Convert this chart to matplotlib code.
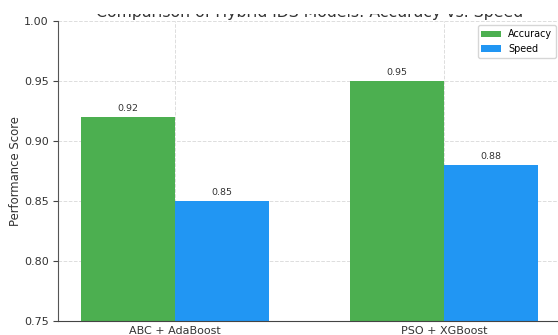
import matplotlib
matplotlib.use("Agg")
import matplotlib.pyplot as plt
from matplotlib.patches import Rectangle
import numpy as np

# Chart data
models = ["ABC + AdaBoost", "PSO + XGBoost"]
accuracy = [0.92, 0.95]
speed = [0.85, 0.88]

bar_width = 0.35
x = np.arange(len(models))

fig = plt.figure(figsize=(5.58, 3.35), dpi=100)
# axes placed so the picture is cropped like the reference (title and right edge cut)
ax = fig.add_axes([58.3 / 558, (335 - 320.7) / 335, 502.7 / 558, 300 / 335])

bars_acc = ax.bar(x - bar_width / 2, accuracy, bar_width, label="Accuracy", color="#4CAF50")
bars_spd = ax.bar(x + bar_width / 2, speed, bar_width, label="Speed", color="#2196F3")

# Value labels above each bar
for bars in (bars_acc, bars_spd):
    for b in bars:
        ax.annotate(f"{b.get_height():.2f}",
                    xy=(b.get_x() + b.get_width() / 2, b.get_height()),
                    xytext=(0, 3), textcoords="offset points",
                    ha="center", va="bottom", fontsize=6.8, color="#333333")

ax.set_ylim(0.75, 1.0)
ax.set_xticks(x)
ax.set_xticklabels(models)
ax.set_ylabel("Performance Score", fontsize=8.4, color="#333333", labelpad=1)
ax.set_title("Comparison of Hybrid IDS Models: Accuracy vs. Speed", fontsize=11.3,
             color="#333333", pad=3)

ax.tick_params(axis="y", labelsize=8, colors="#444444", labelcolor="#333333", length=3.5, width=0.8)
ax.tick_params(axis="x", labelsize=8, length=0, pad=4, labelcolor="#333333")

ax.grid(True, linestyle="--", color="#dddddd", linewidth=0.7)
ax.set_axisbelow(True)

for side in ("top", "right"):
    ax.spines[side].set_visible(False)
ax.spines["left"].set_color("#555555")
ax.spines["bottom"].set_color("#444444")

leg = ax.legend(loc="upper right", fontsize=6.9, frameon=True, fancybox=True)
leg.get_frame().set_edgecolor("#cccccc")

# the reference is cut off at the top: only the bottom row of the title shows
fig.add_artist(Rectangle((0, 1 - 13.5 / 335), 1, 13.5 / 335, transform=fig.transFigure,
                         facecolor="white", edgecolor="none", zorder=10))

fig.savefig("out.png", dpi=100)
plt.close(fig)
